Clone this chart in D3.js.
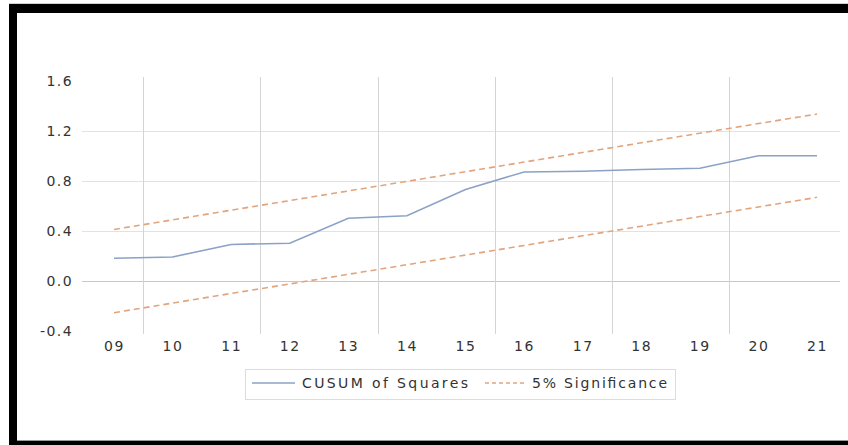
<!DOCTYPE html>
<html>
<head>
<meta charset="utf-8">
<script src="https://cdn.jsdelivr.net/npm/d3@7"></script>
<style>
  html, body { margin: 0; padding: 0; background: #fff; width: 848px; height: 445px; overflow: hidden; }
  svg { display: block; }
  text { font-family: "DejaVu Sans", Verdana, sans-serif; }
</style>
</head>
<body>
<svg id="chart" width="848" height="445"></svg>
<script>
// Observation labels (two-digit years)
const years = ["09", "10", "11", "12", "13", "14", "15", "16", "17", "18", "19", "20", "21"];
// CUSUM of squares statistic
const cusumSq = [0.18, 0.19, 0.29, 0.30, 0.50, 0.52, 0.73, 0.87, 0.875, 0.89, 0.90, 1.00, 1.00];
// 5% significance bounds
const upperBound = [0.41, 0.487, 0.564, 0.641, 0.718, 0.795, 0.872, 0.949, 1.026, 1.103, 1.180, 1.257, 1.333];
const lowerBound = [-0.256, -0.179, -0.102, -0.026, 0.051, 0.128, 0.205, 0.282, 0.359, 0.436, 0.513, 0.590, 0.667];
// Value axis ticks
const yTicks = [-0.4, 0.0, 0.4, 0.8, 1.2, 1.6];
const gridTicks = [0.0, 0.4, 0.8, 1.2];
const legendLabels = ["CUSUM of Squares", "5% Significance"];

const svg = d3.select("#chart");

// Black frame: top, left and bottom bands
const frame = [
  { x: 9, y: 4, w: 839, h: 9 },
  { x: 9, y: 4, w: 8, h: 441 },
  { x: 9, y: 441, w: 839, h: 4 }
];
svg.append("g").selectAll("rect").data(frame).join("rect")
  .attr("x", d => d.x).attr("y", d => d.y).attr("width", d => d.w).attr("height", d => d.h)
  .attr("fill", "#000");
svg.append("line").attr("x1", 9).attr("x2", 848).attr("y1", 3.5).attr("y2", 3.5)
  .attr("stroke", "#d0d0d0").attr("stroke-width", 1);
svg.append("line").attr("x1", 17).attr("x2", 848).attr("y1", 440.5).attr("y2", 440.5)
  .attr("stroke", "#9a9a9a").attr("stroke-width", 1);

const x = d3.scalePoint().domain(years).range([114, 817]);
const y = d3.scaleLinear().domain([-0.4, 1.6]).range([330.7, 80.7]);
const step = x.step();

const plotLeft = 82, plotRight = 840;

// Horizontal grid lines
svg.append("g").selectAll("line").data(gridTicks).join("line")
  .attr("x1", plotLeft).attr("x2", plotRight)
  .attr("y1", d => Math.round(y(d)) + 0.5).attr("y2", d => Math.round(y(d)) + 0.5)
  .attr("stroke", d => d === 0 ? "#c8c8c8" : "#e2e2e2").attr("stroke-width", 1);

// Vertical separators between every second pair of observations
const sepYears = years.filter((d, i) => i % 2 === 0 && i < years.length - 1);
svg.append("g").selectAll("line").data(sepYears).join("line")
  .attr("x1", d => Math.round(x(d) + step / 2) + 0.5)
  .attr("x2", d => Math.round(x(d) + step / 2) + 0.5)
  .attr("y1", 77).attr("y2", 334)
  .attr("stroke", "#d4d4d4").attr("stroke-width", 1);

// Y axis labels (plain hyphen for negatives)
const fmt = d3.format(".1f");
const yAxis = d3.axisLeft(y).tickValues(yTicks).tickSize(0).tickPadding(0)
  .tickFormat(d => fmt(d).replace("\u2212", "-"));
const yg = svg.append("g").attr("transform", "translate(73,0)").call(yAxis);
yg.select(".domain").remove();
yg.selectAll("text").attr("fill", "#333").attr("font-size", 14)
  .attr("letter-spacing", 1.4).attr("dy", "0.35em");

// X axis labels
const xAxis = d3.axisBottom(x).tickSize(0).tickPadding(0);
const xg = svg.append("g").attr("transform", "translate(0,340)").call(xAxis);
xg.select(".domain").remove();
xg.selectAll("text").attr("fill", "#333").attr("font-size", 14)
  .attr("letter-spacing", 1.6).attr("dy", "0.8em");

const line = d3.line().x((d, i) => x(years[i])).y(d => y(d));

// Significance bounds
[upperBound, lowerBound].forEach(series => {
  svg.append("path").datum(series).attr("d", line)
    .attr("fill", "none").attr("stroke", "#e2a47c").attr("stroke-width", 1.6)
    .attr("stroke-dasharray", "6,4");
});

// CUSUM of squares
svg.append("path").datum(cusumSq).attr("d", line)
  .attr("fill", "none").attr("stroke", "#8ba2c6").attr("stroke-width", 1.6);

// Legend
const lg = svg.append("g");
lg.append("rect").attr("x", 245.5).attr("y", 369.5).attr("width", 430).attr("height", 30)
  .attr("fill", "#fff").attr("stroke", "#dcdcdc").attr("stroke-width", 1);
const ly = 383;
lg.append("line").attr("x1", 252).attr("x2", 295).attr("y1", ly).attr("y2", ly)
  .attr("stroke", "#8ba2c6").attr("stroke-width", 1.6);
lg.append("text").attr("x", 302).attr("y", ly).attr("dy", "0.35em")
  .attr("font-size", 14).attr("fill", "#333")
  .attr("textLength", 166).attr("lengthAdjust", "spacing").text(legendLabels[0]);
lg.append("line").attr("x1", 485).attr("x2", 525).attr("y1", ly).attr("y2", ly)
  .attr("stroke", "#e2a47c").attr("stroke-width", 1.6).attr("stroke-dasharray", "4,3");
lg.append("text").attr("x", 532).attr("y", ly).attr("dy", "0.35em")
  .attr("font-size", 14).attr("fill", "#333")
  .attr("textLength", 135).attr("lengthAdjust", "spacing").text(legendLabels[1]);
</script>
</body>
</html>
